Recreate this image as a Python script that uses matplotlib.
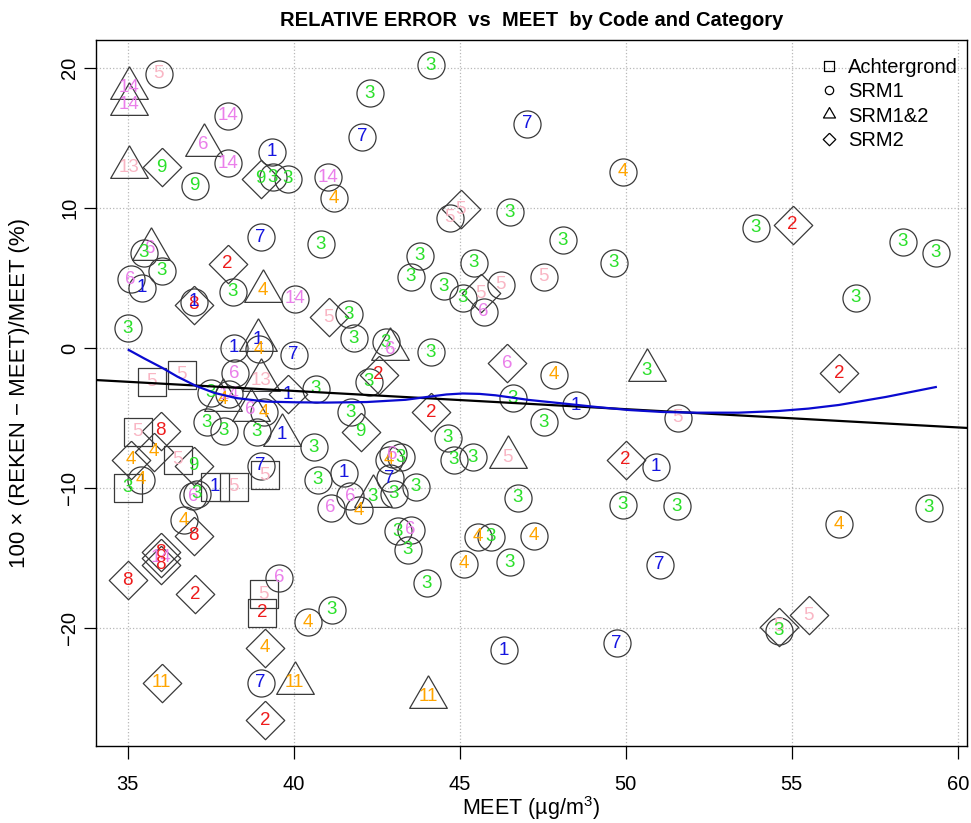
import matplotlib
matplotlib.use('Agg')
import matplotlib.pyplot as plt
from matplotlib.lines import Line2D

plt.rcParams['font.family'] = ['Liberation Sans', 'DejaVu Sans']
plt.rcParams['mathtext.default'] = 'regular'

# points: MEET, relative error, code, category
meet = [35.03, 35.03, 35.93, 38.01, 37.29, 38.01, 35.03, 36.02, 37.02, 39.34,
        39.00, 39.37, 39.82, 41.02, 41.20, 42.29, 42.05, 35.69, 35.48, 36.02,
        35.09, 35.42, 39.00, 38.01, 40.81, 39.07, 38.16, 40.03, 36.99, 36.99,
        35.00, 41.05, 41.66, 41.81, 42.77, 42.90, 38.19, 38.92, 38.95, 40.00,
        35.72, 36.63, 38.22, 39.00, 37.50, 38.04, 37.86, 39.82, 40.66, 37.38,
        37.89, 38.70, 39.10, 38.89, 39.64, 40.60, 41.72, 42.02, 35.30, 35.99,
        35.09, 35.78, 35.39, 35.00, 36.50, 36.99, 36.96, 37.08, 37.62, 38.19,
        39.00, 39.13, 40.72, 41.50, 41.11, 41.69, 41.96, 42.38, 42.86, 42.98,
        43.22, 42.89, 43.01, 43.67, 43.13, 43.52, 43.43, 45.54, 45.93, 47.23,
        45.12, 46.50, 44.00, 51.02, 46.33, 49.73, 44.04, 36.99, 36.69, 35.99,
        35.99, 35.99, 35.00, 37.02, 39.55, 39.10, 39.04, 40.42, 41.14, 39.13,
        39.00, 40.03, 36.02, 39.13, 54.61, 54.61, 55.51, 56.42, 56.93, 56.42,
        59.13, 44.13, 47.02, 49.91, 45.03, 44.70, 46.50, 48.10, 49.64, 43.80,
        43.52, 45.42, 47.53, 46.23, 44.52, 45.09, 45.63, 45.72, 44.13, 46.42,
        42.56, 42.26, 47.83, 50.63, 46.60, 48.49, 51.57, 44.13, 47.53, 44.64,
        44.82, 45.39, 46.45, 50.00, 50.90, 46.75, 49.91, 51.54, 53.92, 55.03,
        58.34, 59.34]
rel_err = [18.6, 17.4, 19.6, 16.6, 14.5, 13.2, 12.9, 12.9, 11.6, 14.0,
           12.1, 12.2, 12.1, 12.2, 10.7, 18.2, 15.1, 7.1, 6.8, 5.5,
           4.9, 4.3, 7.9, 6.0, 7.4, 4.1, 4.0, 3.5, 3.1, 3.3,
           1.4, 2.2, 2.4, 0.7, 0.4, -0.1, 0.0, 0.6, -0.1, -0.5,
           -2.4, -1.9, -1.8, -2.3, -3.2, -3.3, -3.7, -3.3, -2.9, -5.3,
           -5.9, -4.4, -4.6, -6.0, -6.2, -7.1, -4.6, -6.0, -6.0, -5.9,
           -8.0, -7.4, -9.4, -10.0, -8.0, -8.4, -10.6, -10.4, -9.9, -9.9,
           -8.4, -9.1, -9.4, -8.9, -11.4, -10.6, -11.6, -10.6, -8.0, -7.6,
           -7.8, -9.3, -10.4, -9.9, -13.1, -13.0, -14.4, -13.5, -13.5, -13.4,
           -15.4, -15.3, -16.8, -15.5, -21.6, -21.1, -24.9, -13.4, -12.3, -14.6,
           -15.0, -15.5, -16.6, -17.6, -16.4, -17.6, -18.9, -19.6, -18.7, -21.4,
           -23.9, -23.9, -23.9, -26.6, -19.9, -20.2, -19.1, -12.6, 3.6, -1.8,
           -11.4, 20.2, 16.0, 12.6, 9.9, 9.3, 9.7, 7.7, 6.1, 6.6,
           5.1, 6.1, 5.1, 4.5, 4.4, 3.6, 3.9, 2.6, -0.3, -1.1,
           -1.9, -2.4, -1.9, -1.6, -3.6, -4.1, -5.0, -4.6, -5.3, -6.4,
           -8.0, -7.8, -7.8, -8.0, -8.5, -10.7, -11.2, -11.3, 8.6, 8.8,
           7.6, 6.8]
code = [14, 14, 5, 14, 6, 14, 13, 9, 9, 1,
        9, 3, 3, 14, 4, 3, 7, 6, 3, 3,
        6, 1, 7, 2, 3, 4, 3, 14, 8, 1,
        3, 5, 3, 3, 3, 6, 1, 1, 4, 7,
        5, 5, 6, 13, 3, 14, 4, 1, 3, 3,
        3, 6, 4, 3, 1, 3, 3, 9, 5, 8,
        4, 4, 4, 3, 5, 9, 6, 3, 1, 5,
        7, 5, 3, 1, 6, 6, 4, 3, 4, 6,
        3, 7, 3, 3, 3, 6, 3, 4, 3, 4,
        4, 3, 3, 7, 1, 7, 11, 8, 4, 8,
        14, 8, 8, 2, 6, 5, 2, 4, 3, 4,
        7, 11, 11, 2, 5, 3, 5, 4, 3, 2,
        3, 3, 7, 4, 5, 5, 3, 3, 3, 3,
        3, 3, 5, 5, 3, 3, 5, 6, 3, 6,
        2, 3, 4, 3, 3, 1, 5, 2, 3, 3,
        3, 3, 5, 2, 1, 3, 3, 3, 3, 2,
        3, 3]
category = ['SRM1&2', 'SRM1&2', 'SRM1', 'SRM1', 'SRM1&2', 'SRM1', 'SRM1&2', 'SRM2', 'SRM1', 'SRM1',
            'SRM2', 'SRM1', 'SRM1', 'SRM1', 'SRM1', 'SRM1', 'SRM1', 'SRM1&2', 'SRM1', 'SRM1',
            'SRM1', 'SRM1', 'SRM1', 'SRM2', 'SRM1', 'SRM1&2', 'SRM1', 'SRM1', 'SRM2', 'SRM1',
            'SRM1', 'SRM2', 'SRM1', 'SRM1', 'SRM1', 'SRM1&2', 'SRM1', 'SRM1&2', 'SRM1', 'SRM1',
            'Achtergrond', 'Achtergrond', 'SRM1', 'SRM1&2', 'SRM1', 'SRM1', 'SRM1&2', 'SRM2', 'SRM1', 'SRM1',
            'SRM1', 'SRM1&2', 'SRM1', 'SRM1', 'SRM1&2', 'SRM1', 'SRM1', 'SRM2', 'Achtergrond', 'SRM2',
            'SRM2', 'SRM2', 'SRM1', 'Achtergrond', 'Achtergrond', 'SRM2', 'SRM1', 'SRM1', 'Achtergrond', 'Achtergrond',
            'SRM1', 'Achtergrond', 'SRM1', 'SRM1', 'SRM1', 'SRM1', 'SRM1', 'SRM1&2', 'SRM1', 'SRM1',
            'SRM1', 'SRM1', 'SRM1', 'SRM1', 'SRM1', 'SRM1', 'SRM1', 'SRM1', 'SRM1', 'SRM1',
            'SRM1', 'SRM1', 'SRM1', 'SRM1', 'SRM1', 'SRM1', 'SRM1&2', 'SRM2', 'SRM1', 'SRM2',
            'SRM2', 'SRM2', 'SRM2', 'SRM2', 'SRM1', 'Achtergrond', 'Achtergrond', 'SRM1', 'SRM1', 'SRM2',
            'SRM1', 'SRM1&2', 'SRM2', 'SRM2', 'SRM2', 'SRM1', 'SRM2', 'SRM1', 'SRM1', 'SRM2',
            'SRM1', 'SRM1', 'SRM1', 'SRM1', 'SRM2', 'SRM1', 'SRM1', 'SRM1', 'SRM1', 'SRM1',
            'SRM1', 'SRM1', 'SRM1', 'SRM1', 'SRM1', 'SRM1', 'SRM2', 'SRM1', 'SRM1', 'SRM2',
            'SRM2', 'SRM1', 'SRM1', 'SRM1&2', 'SRM1', 'SRM1', 'SRM1', 'SRM2', 'SRM1', 'SRM1',
            'SRM1', 'SRM1', 'SRM1&2', 'SRM2', 'SRM1', 'SRM1', 'SRM1', 'SRM1', 'SRM1', 'SRM2',
            'SRM1', 'SRM1']

# smoother (blue)
smooth_meet = [35.03, 35.5, 36.05, 36.5, 37.05, 37.6, 38.25, 39.16, 40.06, 41.0,
               42.2, 43.37, 44.07, 44.6, 45.09, 45.6, 46.08, 47.08, 48.10, 49.10,
               50.09, 51.1, 52.11, 53.4, 54.61, 55.5, 56.42, 57.83, 59.34]
smooth_err = [-0.14, -0.75, -1.43, -2.05, -2.70, -3.20, -3.57, -3.83, -3.88, -3.90,
              -3.86, -3.70, -3.48, -3.32, -3.25, -3.28, -3.38, -3.71, -3.96, -4.21,
              -4.43, -4.57, -4.62, -4.62, -4.50, -4.33, -4.07, -3.50, -2.79]

# linear fit (black)
fit_intercept = 2.15
fit_slope = -0.1304

categories = ['Achtergrond', 'SRM1', 'SRM1&2', 'SRM2']

code_colors = {1: '#1515e0', 7: '#1515e0', 2: '#ee1c1c', 8: '#ee1c1c',
               3: '#2ae02a', 9: '#2ae02a', 4: '#ffa500', 11: '#ffa500',
               5: '#f9b6c4', 13: '#f9b6c4', 6: '#ea7fea', 14: '#ea7fea'}

square = [(-1, -1), (1, -1), (1, 1), (-1, 1), (-1, -1)]
triangle = [(0, 1), (-0.866, -0.5), (0.866, -0.5), (0, 1)]
diamond = [(0, 1), (1, 0), (0, -1), (-1, 0), (0, 1)]
markers = {'Achtergrond': square, 'SRM1': 'o', 'SRM1&2': triangle, 'SRM2': diamond}
sizes = {'Achtergrond': 20, 'SRM1': 19.5, 'SRM1&2': 31.3, 'SRM2': 27.7}
legend_sizes = {'Achtergrond': 6.5, 'SRM1': 6, 'SRM1&2': 10, 'SRM2': 9}

fig = plt.figure(figsize=(9.71, 8.23), dpi=100)
ax = fig.add_axes([96 / 971, 1 - 746 / 823, 871 / 971, 706 / 823])

for cat in categories:
    xs = [m for m, c in zip(meet, category) if c == cat]
    ys = [e for e, c in zip(rel_err, category) if c == cat]
    ax.plot(xs, ys, ls='none', marker=markers[cat], ms=sizes[cat],
            mfc='none', mec='#3a3a3a', mew=0.9, zorder=3)

for m, e, c in zip(meet, rel_err, code):
    ax.text(m, e, str(c), color=code_colors[c], fontsize=13.5,
            ha='center', va='center', zorder=4)

ax.axline((0, fit_intercept), slope=fit_slope, color='black', lw=1.6, zorder=5)
ax.plot(smooth_meet, smooth_err, color='#0a0ad0', lw=1.6, zorder=5)

ax.set_xlim(34.045, 60.28)
ax.set_ylim(-28.43, 22.0)
ax.set_xticks([35, 40, 45, 50, 55, 60])
ax.set_yticks([-20, -10, 0, 10, 20])
ax.grid(True, ls=':', color='#b8b8b8', lw=0.9, zorder=0)
ax.tick_params(direction='out', length=9, width=0.9, labelsize=14.5)
ax.tick_params(axis='x', pad=12)
ax.tick_params(axis='y', labelrotation=90, pad=3)
for lab in ax.get_yticklabels():
    lab.set_va('center')
for sp in ax.spines.values():
    sp.set_linewidth(1.0)

ax.set_title('RELATIVE ERROR  vs  MEET  by Code and Category',
             fontsize=14.5, fontweight='bold', pad=10)
ax.set_xlabel('MEET (µg/m$^3$)', fontsize=15.5, labelpad=0)
ax.set_ylabel('100 × (REKEN − MEET)/MEET (%)', fontsize=16, labelpad=22)

handles = [Line2D([], [], ls='none', marker=markers[c], ms=legend_sizes[c],
                  mfc='none', mec='black', mew=0.9) for c in categories]
ax.legend(handles, categories, loc='upper left', frameon=False, fontsize=14.5,
          bbox_to_anchor=(809 / 971, 1 - 48 / 823), bbox_transform=fig.transFigure,
          borderpad=0, handlelength=1.0, handletextpad=0.42, labelspacing=0.26)

fig.savefig('out.png', dpi=100)
